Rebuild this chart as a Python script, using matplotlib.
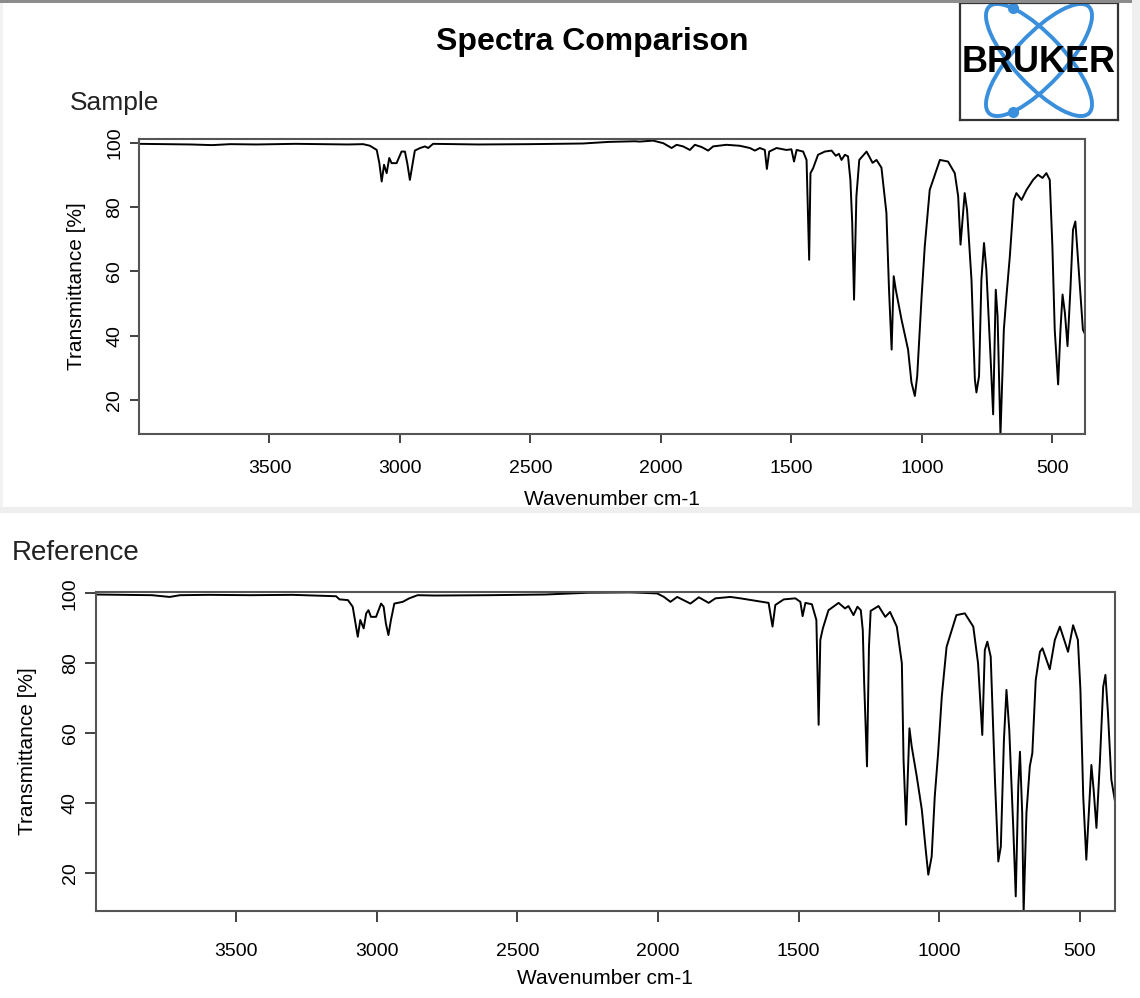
import matplotlib
matplotlib.use("Agg")
import matplotlib.pyplot as plt
from matplotlib.patches import Rectangle, Ellipse

plt.rcParams['font.family'] = ['Liberation Sans', 'DejaVu Sans']

# spectrum of the sample (wavenumber cm-1, transmittance %)
sample_wn = [4000, 3900, 3800, 3720, 3650, 3550, 3400, 3300, 3200, 3141, 3115, 3089,
             3079, 3070, 3061, 3051, 3041, 3032, 3013, 2994, 2981, 2972, 2962, 2951,
             2943, 2923, 2904, 2892, 2873, 2700, 2500, 2300, 2200, 2100, 2081, 2030,
             1991, 1959, 1940, 1915, 1889, 1870, 1844, 1819, 1800, 1749, 1698, 1659,
             1640, 1621, 1602, 1594, 1585, 1557, 1519, 1500, 1490, 1480, 1455, 1442,
             1432, 1427, 1417, 1398, 1372, 1346, 1330, 1318, 1308, 1295, 1283, 1274,
             1267, 1260, 1251, 1240, 1212, 1189, 1174, 1155, 1136, 1126, 1116, 1108,
             1100, 1078, 1053, 1040, 1027, 1018, 1008, 1001, 989, 970, 931, 900,
             874, 861, 852, 836, 827, 810, 797, 791, 781, 772, 762, 753,
             736, 727, 717, 710, 699, 686, 676, 663, 648, 638, 618, 599,
             574, 555, 538, 523, 510, 500, 491, 478, 469, 461, 452, 442,
             431, 421, 412, 399, 383, 375]
sample_t = [99.6, 99.5, 99.4, 99.2, 99.5, 99.4, 99.6, 99.5, 99.4, 99.5, 99.0, 97.7,
            93.6, 87.9, 93.1, 90.5, 95.2, 93.6, 93.6, 97.2, 97.2, 93.6, 88.4, 93.6,
            97.5, 98.3, 98.8, 98.3, 99.6, 99.4, 99.5, 99.7, 100.2, 100.4, 100.3, 100.6,
            99.8, 98.3, 99.3, 98.8, 97.7, 99.3, 98.6, 97.5, 98.8, 99.3, 99.0, 98.3,
            97.5, 98.3, 97.7, 91.8, 97.2, 98.3, 97.7, 97.9, 94.1, 97.7, 97.2, 94.6,
            63.6, 90.5, 92.0, 96.2, 97.2, 97.5, 95.9, 96.5, 94.6, 96.2, 95.7, 88.4,
            75.0, 51.2, 83.3, 94.6, 97.2, 93.7, 94.6, 92.2, 78.2, 54.3, 35.7, 58.5,
            54.3, 45.0, 35.7, 25.5, 21.3, 27.5, 41.9, 52.3, 67.8, 85.3, 94.6, 94.1,
            90.5, 83.3, 68.3, 84.3, 79.1, 57.4, 26.4, 22.4, 27.5, 57.4, 68.8, 60.5,
            31.7, 15.6, 54.3, 46.1, 9.0, 41.9, 52.3, 64.7, 82.2, 84.3, 82.2, 85.3,
            88.4, 90.0, 89.0, 90.5, 88.4, 67.8, 41.9, 24.9, 41.9, 52.8, 47.1, 36.8,
            54.3, 72.9, 75.5, 60.5, 41.9, 40.5]

# spectrum of the reference
reference_wn = [4000, 3900, 3800, 3737, 3700, 3600, 3450, 3300, 3145, 3133, 3103, 3086,
                3078, 3068, 3059, 3047, 3038, 3030, 3021, 3003, 2985, 2976, 2968, 2959,
                2950, 2938, 2908, 2885, 2855, 2796, 2600, 2400, 2250, 2100, 2062, 2003,
                1979, 1956, 1932, 1885, 1855, 1820, 1796, 1743, 1707, 1654, 1607, 1593,
                1583, 1553, 1512, 1494, 1486, 1476, 1453, 1437, 1429, 1423, 1414, 1394,
                1358, 1335, 1323, 1305, 1291, 1279, 1272, 1267, 1257, 1250, 1244, 1216,
                1192, 1175, 1151, 1133, 1127, 1118, 1106, 1098, 1080, 1062, 1047, 1039,
                1027, 1016, 1004, 991, 974, 939, 909, 879, 862, 847, 838, 829,
                817, 802, 790, 781, 770, 761, 751, 737, 728, 719, 713, 705,
                700, 690, 678, 669, 657, 642, 633, 607, 589, 571, 542, 524,
                507, 498, 488, 477, 468, 459, 451, 441, 429, 417, 409, 400,
                388, 375]
reference_t = [99.7, 99.6, 99.5, 99.0, 99.5, 99.6, 99.5, 99.6, 99.2, 98.3, 98.1, 96.2,
               92.4, 87.6, 92.4, 90.0, 94.3, 95.2, 93.3, 93.3, 97.1, 96.2, 91.4, 88.1,
               92.4, 97.1, 97.6, 98.6, 99.5, 99.4, 99.5, 99.7, 100.2, 100.3, 100.2, 100.0,
               99.0, 97.6, 99.0, 97.1, 98.9, 97.3, 98.6, 99.0, 98.6, 97.9, 97.3, 90.5,
               96.7, 98.3, 98.6, 97.6, 93.5, 97.3, 96.9, 92.4, 62.4, 86.7, 90.0, 95.2,
               97.3, 95.7, 96.4, 93.8, 96.2, 95.2, 89.5, 74.3, 50.5, 84.7, 95.0, 96.4,
               93.3, 94.7, 90.5, 80.0, 52.4, 33.8, 61.4, 56.2, 47.6, 38.1, 25.7, 19.5,
               24.7, 41.9, 54.3, 70.5, 84.7, 93.8, 94.3, 90.5, 80.0, 59.5, 83.8, 86.2,
               81.9, 46.7, 23.3, 27.6, 58.1, 72.4, 60.9, 33.3, 13.3, 44.8, 54.7, 37.1,
               8.5, 37.1, 50.5, 54.3, 75.2, 83.3, 84.3, 78.3, 86.7, 90.5, 83.3, 90.9,
               86.7, 72.4, 41.9, 23.8, 37.1, 50.9, 43.8, 32.9, 51.4, 73.3, 76.7, 65.7,
               46.7, 40.5]

x_ticks = [3500, 3000, 2500, 2000, 1500, 1000, 500]
y_ticks = [20, 40, 60, 80, 100]

W, H = 1140, 998
fig = plt.figure(figsize=(W / 100, H / 100), dpi=100)


def fx(x):
    return x / W


def fy(y):
    return 1 - y / H


# window frame around the upper panel
fig.add_artist(Rectangle((0, fy(3)), fx(1132), 3 / H, transform=fig.transFigure,
                         color='#8c8c8c', lw=0))
fig.add_artist(Rectangle((fx(1132), fy(512)), 8 / W, 512 / H, transform=fig.transFigure,
                         color='#efefef', lw=0))
fig.add_artist(Rectangle((0, fy(512)), 3 / W, 509 / H, transform=fig.transFigure,
                         color='#f2f2f2', lw=0))
fig.add_artist(Rectangle((0, fy(513)), 1, 6 / H, transform=fig.transFigure,
                         color='#eeeeee', lw=0))


def spectrum(box, wn, t, ylim, tick_len, pad_x, pad_y):
    left, top, right, bottom = box
    ax = fig.add_axes([fx(left), fy(bottom), (right - left) / W, (bottom - top) / H])
    ax.plot(wn, t, color='black', lw=1.4)
    ax.set_xlim(4000, 375)
    ax.set_ylim(*ylim)
    ax.set_xticks(x_ticks)
    ax.set_yticks(y_ticks)
    ax.set_yticklabels([str(v) for v in y_ticks], rotation=90, va='center')
    ax.tick_params(axis='x', length=tick_len, width=1.3, pad=pad_x, labelsize=14,
                   color='#333333')
    ax.tick_params(axis='y', length=tick_len, width=1.3, pad=pad_y, labelsize=14,
                   color='#333333')
    for s in ax.spines.values():
        s.set_color('#555555')
        s.set_linewidth(1.5)
    return ax


ax1 = spectrum((139, 139, 1085, 434), sample_wn, sample_t, (9.5, 101.1), 6.5, 12, 5)
ax2 = spectrum((95.7, 591.7, 1115, 910.7), reference_wn, reference_t, (9.2, 100.5), 7.9, 15, 4.3)

fig.text(fx(592), fy(42), 'Spectra Comparison', fontsize=23, fontweight='bold',
         ha='center', va='center')
fig.text(fx(70), fy(103), 'Sample', fontsize=19, ha='left', va='center', color='#222222')
fig.text(fx(12), fy(553), 'Reference', fontsize=20, ha='left', va='center', color='#222222')

fig.text(fx(612), fy(500), 'Wavenumber cm-1', fontsize=15, ha='center', va='center')
fig.text(fx(605), fy(979), 'Wavenumber cm-1', fontsize=15, ha='center', va='center')
fig.text(fx(76), fy(286), 'Transmittance [%]', fontsize=15, rotation=90,
         ha='center', va='center')
fig.text(fx(28), fy(751), 'Transmittance [%]', fontsize=15, rotation=90,
         ha='center', va='center')

# Bruker logo
lx0, lx1, ly0, ly1 = 960, 1118, 3, 120
lg = fig.add_axes([fx(lx0), fy(ly1), (lx1 - lx0) / W, (ly1 - ly0) / H])
lg.set_xlim(lx0, lx1)
lg.set_ylim(ly1, ly0)
lg.set_xticks([])
lg.set_yticks([])
for s in lg.spines.values():
    s.set_color('#333333')
    s.set_linewidth(1.6)
blue = '#3a8fdc'
for ang in (47, -47):
    lg.add_patch(Ellipse((1039, 60), 146, 50, angle=ang, fill=False, ec=blue, lw=2.8))
lg.plot([1013, 1013], [8, 112], 'o', color=blue, ms=7)
lg.text(1039, 62, 'BRUKER', fontsize=26, fontweight='bold', ha='center', va='center',
        color='black')

fig.savefig('out.png', dpi=100)
